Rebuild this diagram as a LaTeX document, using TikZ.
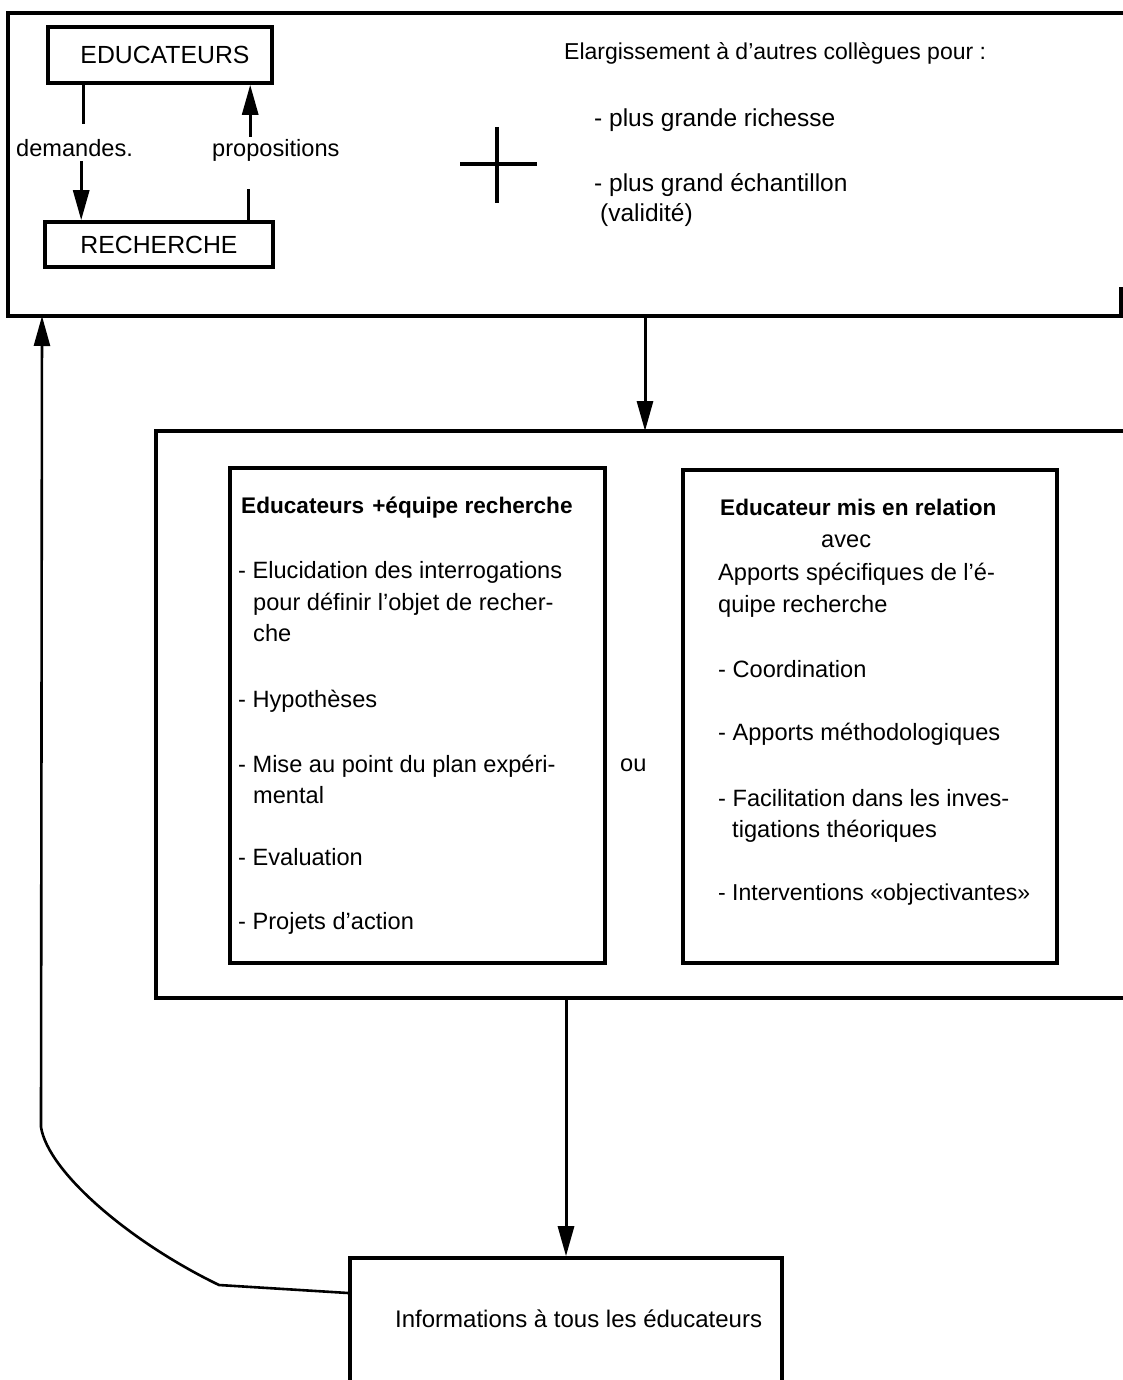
\documentclass[tikz,border=0pt]{standalone}
\usepackage{fontspec}
\setmainfont{Liberation Sans}
\usetikzlibrary{arrows.meta}
\begin{document}
\begin{tikzpicture}[x=1pt,y=-1pt,
  frame/.style={line width=3.4pt, line join=miter},
  box/.style={draw, line width=3.6pt, inner sep=0pt},
  conn/.style={line width=3pt},
  arr/.style={line width=3pt, -{Triangle[length=30pt,width=16pt]}},
  txt/.style={anchor=base west, inner sep=0pt, font=\fontsize{23.6}{28}\selectfont},
  btxt/.style={anchor=base west, inner sep=0pt, font=\fontsize{22.6}{28}\selectfont\bfseries},
  captxt/.style={font=\fontsize{24.8}{28}\selectfont}]
\clip (0,0) rectangle (1123,1380);
\fill[white] (0,0) rectangle (1123,1380);

% ---- top frame ----
\draw[frame] (1123,13) -- (8,13) -- (8,316) -- (1123,316);
\draw[frame] (1121,287) -- (1121,316);

\node[box, captxt, minimum width=224pt, minimum height=56pt] (edu) at (160,55) {\hspace{10pt}EDUCATEURS};
\node[box, captxt, minimum width=228pt, minimum height=45pt] (rech) at (159,244.5) {RECHERCHE};

\node[txt] (dem) at (16,157) {demandes.};
\node[txt] (prop) at (212,157) {propositions};

\draw[conn] ([xshift=37pt]edu.south west) -- ++(0,39);
\draw[arr] ([xshift=38pt]rech.north west) ++(0,-59) -- ([xshift=38pt]rech.north west);
\draw[conn] ([xshift=205pt]rech.north west) -- ++(0,-31);
\draw[arr] ([xshift=204pt]edu.south west) ++(0,52) -- ([xshift=204pt]edu.south west);

% plus sign
\draw[line width=4pt] (460,164) -- (537,164);
\draw[line width=4pt] (497,127) -- (497,203);

\node[txt, font=\fontsize{23}{28}\selectfont] (ela) at (564,60) {Elargissement à d’autres collègues pour :};
\node[txt, font=\fontsize{24.5}{28}\selectfont] (p1) at (594,127) {- plus grande richesse};
\node[txt, font=\fontsize{24.5}{28}\selectfont] (p2) at (594,192) {- plus grand échantillon};
\node[txt, font=\fontsize{24.5}{28}\selectfont] (p3) at (600,222) {(validité)};

% ---- middle frame ----
\draw[frame] (1123,431) -- (156,431) -- (156,998) -- (1123,998);

\node[box, minimum width=375pt, minimum height=495pt] (lbox) at (417.5,715.5) {};
\node[box, minimum width=374pt, minimum height=493pt] (rbox) at (870,716.5) {};

\node[btxt] (lt) at (241,513) {Educateurs\hspace{8pt}+équipe recherche};
\node[txt] (l1) at (238,578) {- Elucidation des interrogations};
\node[txt] (l1b) at (253,610) {pour définir l’objet de recher-};
\node[txt] (l1c) at (253,641) {che};
\node[txt] (l2) at (238,707) {- Hypothèses};
\node[txt] (l3) at (238,772) {- Mise au point du plan expéri-};
\node[txt] (l3b) at (253,803) {mental};
\node[txt] (l4) at (238,865) {- Evaluation};
\node[txt] (l5) at (238,929) {- Projets d’action};

\node[txt] (ou) at (620,771) {ou};

\node[btxt] (rt) at (720,515) {Educateur mis en relation};
\node[txt] (r0) at (821,547) {avec};
\node[txt] (r0b) at (718,580) {Apports spécifiques de l’é-};
\node[txt] (r0c) at (718,612) {quipe recherche};
\node[txt] (r1) at (718,677) {- Coordination};
\node[txt] (r2) at (718,740) {- Apports méthodologiques};
\node[txt] (r3) at (718,806) {- Facilitation dans les inves-};
\node[txt] (r3b) at (732,837) {tigations théoriques};
\node[txt, font=\fontsize{23}{28}\selectfont] (r4) at (718,900) {- Interventions «objectivantes»};

% ---- bottom box ----
\node[box, minimum width=432pt, minimum height=140pt] (info) at (566,1328) {};
\node[txt, font=\fontsize{24}{28}\selectfont] (infot) at (395,1327) {Informations à tous les éducateurs};

% ---- connectors ----
\coordinate (tfb) at (645,316);
\coordinate (mft) at (645,431);
\coordinate (mfb) at (566,998);
\coordinate (tfl) at (42,316);
\draw[arr] (tfb) -- (mft);
\draw[arr] (mfb) -- (info.north);
\draw[arr, line width=2.6pt] ([yshift=35pt]info.west) -- (219,1285) .. controls (130,1242) and (48,1172) .. (41,1127) -- (tfl);
\end{tikzpicture}
\end{document}
